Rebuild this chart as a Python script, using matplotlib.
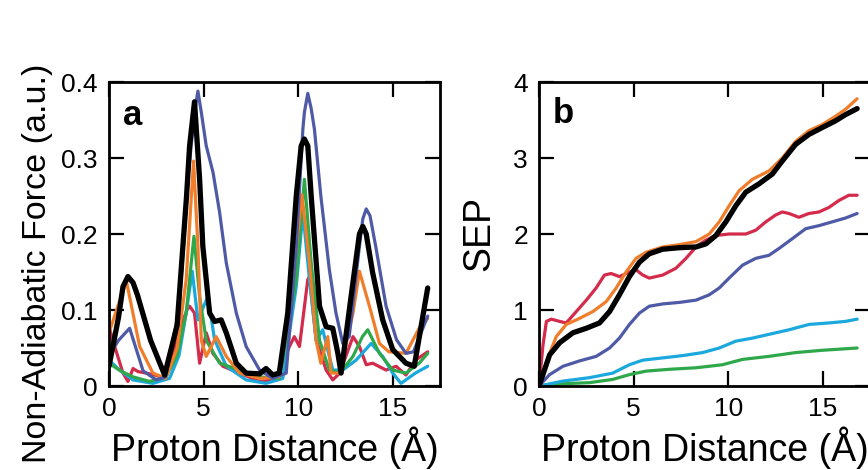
import matplotlib
matplotlib.use('Agg')
import matplotlib.pyplot as plt
from matplotlib.ticker import FixedLocator, FixedFormatter

# ---- panel a: non-adiabatic force ----
a_black_x = [0, 0.5, 0.74, 1.0, 1.27, 1.5, 2.2, 2.94, 3.6, 4.1, 4.26, 4.52, 4.79, 4.96, 5.32, 5.58, 5.93, 6.2, 6.73, 7.25, 7.96, 8.3, 8.66, 9.0,
             9.45, 9.9, 10.16, 10.33, 10.51, 10.69, 11.13, 11.48, 11.83, 12.1, 12.27, 12.8, 13.24, 13.42, 13.6, 13.94, 14.47, 15.0, 15.7, 16.14, 16.85]
a_black_y = [0.026, 0.09, 0.131, 0.144, 0.136, 0.12, 0.06, 0.0145, 0.08, 0.25, 0.316, 0.374, 0.272, 0.184, 0.096, 0.085, 0.087, 0.07, 0.03, 0.017, 0.016, 0.023, 0.0145, 0.017,
             0.096, 0.25, 0.316, 0.325, 0.316, 0.25, 0.105, 0.078, 0.076, 0.043, 0.017, 0.118, 0.2, 0.21, 0.2, 0.149, 0.087, 0.048, 0.03, 0.026, 0.129]

a_blue_x = [0, 0.5, 1.09, 1.8, 2.5, 3.0, 3.7, 4.2, 4.52, 4.7, 4.88, 5.14, 5.5, 5.85, 6.2, 6.73, 7.25, 7.96, 8.66, 9.37,
            9.9, 10.25, 10.33, 10.51, 10.69, 10.86, 11.2, 11.65, 12.0, 12.36, 12.7, 13.24, 13.42, 13.6, 13.8, 14.1, 14.65, 15.2, 15.7, 16.1, 16.85]
a_blue_y = [0.04, 0.06, 0.076, 0.02, 0.008, 0.012, 0.1, 0.28, 0.36, 0.388, 0.36, 0.316, 0.281, 0.228, 0.162, 0.096, 0.052, 0.021, 0.01, 0.017,
            0.184, 0.338, 0.36, 0.385, 0.365, 0.338, 0.25, 0.153, 0.096, 0.056, 0.065, 0.184, 0.22, 0.233, 0.224, 0.184, 0.105, 0.061, 0.043, 0.045, 0.092]

a_orange_x = [0, 0.4, 0.92, 1.62, 2.32, 3.0, 3.6, 4.08, 4.47, 4.7, 4.88, 5.14, 5.67, 6.2, 6.9, 7.96, 9.0,
              9.72, 10.2, 10.6, 10.95, 11.2, 11.57, 11.74, 12.2, 12.9, 13.24, 13.77, 14.3, 14.8, 15.7, 16.4, 16.85]
a_orange_y = [0.07, 0.1, 0.138, 0.052, 0.017, 0.01, 0.05, 0.14, 0.296, 0.184, 0.06, 0.039, 0.065, 0.039, 0.017, 0.01, 0.012,
              0.14, 0.252, 0.162, 0.06, 0.03, 0.065, 0.017, 0.017, 0.096, 0.151, 0.105, 0.056, 0.045, 0.043, 0.076, 0.089]

a_green_x = [0, 0.6, 1.27, 2.15, 3.0, 3.6, 4.08, 4.49, 4.79, 5.14, 5.85, 6.9, 7.96, 9.0,
             9.9, 10.33, 10.69, 11.13, 11.65, 12.2, 12.9, 13.4, 13.68, 14.3, 15.0, 15.7, 16.4, 16.85]
a_green_y = [0.03, 0.02, 0.012, 0.006, 0.012, 0.04, 0.096, 0.197, 0.118, 0.06, 0.03, 0.021, 0.012, 0.01,
             0.14, 0.272, 0.162, 0.06, 0.021, 0.017, 0.039, 0.065, 0.074, 0.043, 0.021, 0.017, 0.03, 0.043]

a_cyan_x = [0, 0.56, 1.27, 2.32, 3.2, 3.7, 4.08, 4.4, 4.7, 5.23, 5.58, 6.2, 7.25, 8.3, 9.19,
            9.9, 10.25, 10.6, 10.95, 11.3, 11.83, 12.36, 13.06, 13.86, 14.47, 15.0, 15.44, 16.2, 16.85]
a_cyan_y = [0.034, 0.021, 0.008, 0.0035, 0.01, 0.04, 0.096, 0.151, 0.087, 0.118, 0.061, 0.026, 0.008, 0.0035, 0.01,
            0.131, 0.228, 0.14, 0.06, 0.074, 0.021, 0.021, 0.034, 0.056, 0.039, 0.017, 0.0035, 0.017, 0.026]

a_red_x = [0, 0.3, 0.74, 1.0, 1.27, 1.53, 1.97, 2.41, 3.0, 3.73, 4.12, 4.26, 4.52, 4.79, 5.14, 5.49, 6.02, 6.9, 7.96, 8.84,
           9.54, 9.8, 10.07, 10.51, 10.6, 10.95, 11.48, 11.83, 12.2, 12.9, 13.24, 13.6, 13.94, 14.65, 15.18, 15.7, 16.2, 16.85]
a_red_y = [0.078, 0.052, 0.017, 0.006, 0.023, 0.019, 0.017, 0.0145, 0.01, 0.074, 0.1, 0.105, 0.096, 0.03, 0.07, 0.043, 0.026, 0.017, 0.006, 0.008,
           0.052, 0.065, 0.052, 0.14, 0.144, 0.061, 0.021, 0.008, 0.017, 0.065, 0.052, 0.028, 0.03, 0.021, 0.026, 0.0145, 0.034, 0.045]

# ---- panel b: SEP ----
b_black_x = [0, 0.56, 1.09, 1.79, 2.5, 3.2, 3.73, 4.25, 4.78, 5.31, 5.83, 6.54, 7.42, 8.3, 8.82, 9.35, 9.88, 10.4,
             10.93, 11.63, 12.34, 12.86, 13.57, 14.27, 14.97, 15.68, 16.2, 16.82]
b_black_y = [0, 0.41, 0.57, 0.70, 0.76, 0.83, 0.98, 1.2, 1.44, 1.63, 1.74, 1.80, 1.82, 1.83, 1.87, 1.98, 2.16, 2.37,
             2.55, 2.66, 2.79, 2.96, 3.18, 3.31, 3.40, 3.49, 3.57, 3.65]

b_orange_x = [0, 0.47, 0.91, 1.44, 2.14, 2.85, 3.55, 4.08, 4.6, 5.13, 5.66, 6.54, 7.42, 8.3, 9.0, 9.53, 10.05,
              10.58, 11.28, 12.16, 12.86, 13.57, 14.27, 14.97, 15.68, 16.2, 16.82]
b_orange_y = [0, 0.37, 0.65, 0.81, 0.89, 0.98, 1.11, 1.29, 1.50, 1.68, 1.76, 1.83, 1.86, 1.90, 2.0, 2.16, 2.37,
              2.57, 2.72, 2.83, 3.0, 3.22, 3.36, 3.44, 3.55, 3.64, 3.78]

b_red_x = [0, 0.21, 0.39, 0.65, 1.09, 1.44, 1.97, 2.5, 3.02, 3.46, 3.81, 4.25, 4.78, 5.13, 5.48, 5.83, 6.54, 7.24, 7.77,
           8.3, 8.82, 9.35, 10.05, 10.93, 11.46, 11.99, 12.51, 12.86, 13.22, 13.74, 14.27, 14.8, 15.33, 15.85, 16.38, 16.82]
b_red_y = [0, 0.54, 0.85, 0.88, 0.85, 0.83, 0.98, 1.13, 1.29, 1.46, 1.48, 1.44, 1.50, 1.53, 1.46, 1.42, 1.46, 1.55, 1.68,
           1.83, 1.92, 1.98, 2.0, 2.0, 2.05, 2.16, 2.25, 2.29, 2.27, 2.22, 2.27, 2.29, 2.35, 2.44, 2.51, 2.51]

b_blue_x = [0, 0.56, 1.27, 2.14, 3.02, 3.73, 4.25, 4.78, 5.31, 5.83, 6.54, 7.42, 8.3, 9.0, 9.53, 10.05,
            10.76, 11.46, 12.16, 12.69, 13.4, 14.1, 14.8, 15.5, 16.2, 16.82]
b_blue_y = [0, 0.15, 0.26, 0.33, 0.39, 0.50, 0.63, 0.81, 0.96, 1.05, 1.08, 1.10, 1.13, 1.20, 1.29, 1.42,
            1.59, 1.68, 1.72, 1.81, 1.94, 2.07, 2.11, 2.16, 2.21, 2.27]

b_cyan_x = [0, 1.27, 2.67, 3.9, 4.78, 5.48, 6.54, 7.59, 8.65, 9.53, 10.4, 11.28, 12.16, 13.22, 14.27, 15.33, 16.2, 16.82]
b_cyan_y = [0, 0.065, 0.11, 0.17, 0.28, 0.34, 0.37, 0.40, 0.44, 0.50, 0.59, 0.63, 0.68, 0.74, 0.81, 0.83, 0.85, 0.88]

b_green_x = [0, 1.27, 2.67, 3.9, 4.78, 5.66, 6.89, 8.3, 9.7, 10.76, 12.16, 13.57, 14.97, 16.82]
b_green_y = [0, 0.03, 0.044, 0.087, 0.15, 0.196, 0.22, 0.24, 0.28, 0.35, 0.39, 0.44, 0.47, 0.50]

x_ticks = [0, 5, 10, 15]
a_yticks = [0, 0.1, 0.2, 0.3, 0.4]
a_ylabels = ['0', '0.1', '0.2', '0.3', '0.4']
b_yticks = [0, 1, 2, 3, 4]
b_ylabels = ['0', '1', '2', '3', '4']

BLUE = '#4f5aa6'
ORANGE = '#f07d2a'
GREEN = '#2ea84a'
CYAN = '#1ba8dc'
RED = '#d42a4c'

plt.rcParams['font.family'] = ['Liberation Sans', 'DejaVu Sans']
plt.rcParams['lines.solid_joinstyle'] = 'round'
plt.rcParams['lines.solid_capstyle'] = 'round'

fig = plt.figure(figsize=(8.68, 4.70), dpi=100)
ax_a = fig.add_axes([0.1256, 0.1787, 0.3813, 0.6468])
ax_b = fig.add_axes([0.6210, 0.1787, 0.3813, 0.6468])

lw = 2.3
ax_a.plot(a_red_x, a_red_y, color=RED, lw=lw)
ax_a.plot(a_cyan_x, a_cyan_y, color=CYAN, lw=lw)
ax_a.plot(a_green_x, a_green_y, color=GREEN, lw=lw)
ax_a.plot(a_orange_x, a_orange_y, color=ORANGE, lw=lw)
ax_a.plot(a_blue_x, a_blue_y, color=BLUE, lw=lw)
ax_a.plot(a_black_x, a_black_y, color='black', lw=3.8)

ax_b.plot(b_green_x, b_green_y, color=GREEN, lw=lw)
ax_b.plot(b_cyan_x, b_cyan_y, color=CYAN, lw=lw)
ax_b.plot(b_blue_x, b_blue_y, color=BLUE, lw=lw)
ax_b.plot(b_red_x, b_red_y, color=RED, lw=lw)
ax_b.plot(b_orange_x, b_orange_y, color=ORANGE, lw=lw)
ax_b.plot(b_black_x, b_black_y, color='black', lw=3.8)

for ax, yt, yl in [(ax_a, a_yticks, a_ylabels), (ax_b, b_yticks, b_ylabels)]:
    ax.set_xlim(0, 17.5)
    ax.set_ylim(yt[0], yt[-1])
    ax.xaxis.set_major_locator(FixedLocator(x_ticks))
    ax.yaxis.set_major_locator(FixedLocator(yt))
    ax.yaxis.set_major_formatter(FixedFormatter(yl))
    ax.tick_params(direction='in', length=11, width=1.6, labelsize=19,
                   top=True, right=True, pad=8)
    for sp in ax.spines.values():
        sp.set_linewidth(2.0)
    ax.set_xlabel('Proton Distance (Å)', fontsize=27, labelpad=4)

ax_a.set_ylabel('Non-Adiabatic Force (a.u.)', fontsize=24.5)
ax_a.yaxis.set_label_coords(-0.17, 0.405)
ax_b.set_ylabel('SEP', fontsize=27)
ax_b.yaxis.set_label_coords(-0.127, 0.503)

ax_a.text(0.042, 0.86, 'a', transform=ax_a.transAxes, fontsize=25, fontweight='bold')
ax_b.text(0.042, 0.865, 'b', transform=ax_b.transAxes, fontsize=25, fontweight='bold')

fig.savefig('out.png', dpi=100)
